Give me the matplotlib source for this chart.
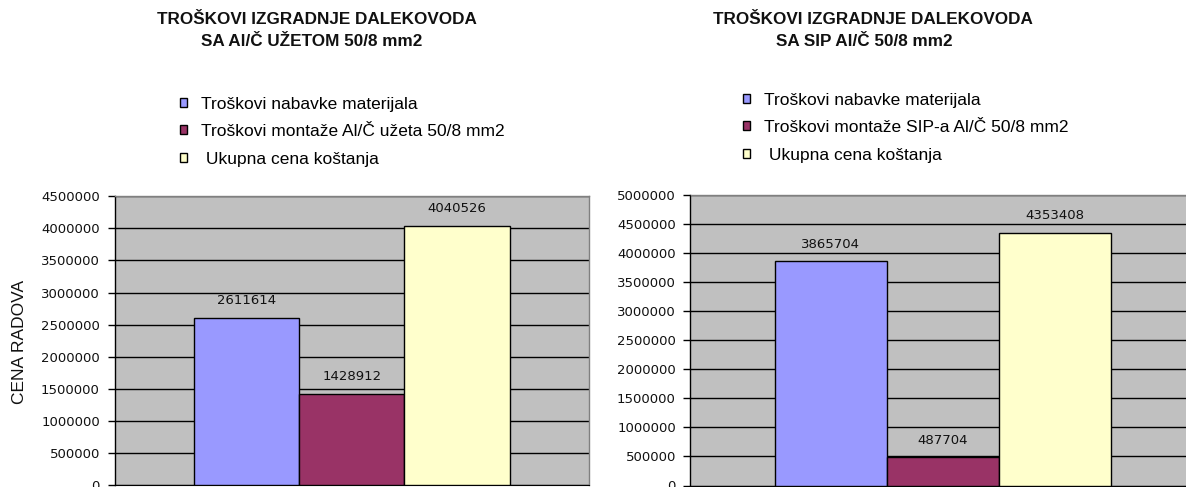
import matplotlib
matplotlib.use("Agg")
import matplotlib.pyplot as plt
from matplotlib.ticker import MultipleLocator, FuncFormatter

# ---------------- data ----------------
title_left = ["TROŠKOVI IZGRADNJE DALEKOVODA", "SA Al/Č UŽETOM 50/8 mm2"]
title_right = ["TROŠKOVI IZGRADNJE DALEKOVODA", "SA SIP Al/Č 50/8 mm2"]
series_left = ["Troškovi nabavke materijala",
               "Troškovi montaže Al/Č užeta 50/8 mm2",
               " Ukupna cena koštanja"]
series_right = ["Troškovi nabavke materijala",
                "Troškovi montaže SIP-a Al/Č 50/8 mm2",
                " Ukupna cena koštanja"]
values_left = [2611614, 1428912, 4040526]
values_right = [3865704, 487704, 4353408]
ylim_left = 4500000
ylim_right = 5000000
ytick_step = 500000
ylabel_left = "CENA RADOVA"

colors = ["#9999FF", "#993366", "#FFFFCC"]
W, H = 1186, 487

fig = plt.figure(figsize=(W / 100, H / 100), dpi=100)
fig.patch.set_facecolor("white")

TXT = "Liberation Sans"
NUM = "DejaVu Sans"


def px_axes(l, r, t, b):
    return fig.add_axes([l / W, (H - b) / H, (r - l) / W, (b - t) / H])


def draw(ax, values, labels, ymax):
    ax.set_facecolor("#C0C0C0")
    ax.set_axisbelow(True)
    xs = [-1, 0, 1]
    bars = []
    for x, v, c, lab in zip(xs, values, colors, labels):
        b = ax.bar(x, v, width=1.0, color=c, edgecolor="black",
                   linewidth=1.0, label=lab, zorder=3)
        bars.append(b[0])
        ax.annotate(f"{v}", xy=(x, v), xytext=(0, 13.5),
                    textcoords="offset pixels", ha="center", va="baseline",
                    fontsize=9.5, family=NUM, color="#111111")
    ax.set_xlim(-2.25, 2.25)
    ax.set_ylim(0, ymax)
    ax.yaxis.set_major_locator(MultipleLocator(ytick_step))
    ax.yaxis.set_major_formatter(FuncFormatter(lambda v, p: f"{int(round(v))}"))
    ax.grid(axis="y", color="black", linewidth=1.0)
    ax.set_xticks([])
    ax.tick_params(axis="y", direction="out", length=5, width=1,
                   color="black", pad=5.5, labelsize=9.5)
    for t in ax.get_yticklabels():
        t.set_family(NUM)
        t.set_color("#111111")
    ax.spines["left"].set_color("black")
    ax.spines["left"].set_linewidth(1.0)
    ax.spines["bottom"].set_color("black")
    for s in ("top", "right"):
        ax.spines[s].set_color("#808080")
        ax.spines[s].set_linewidth(1.0)
    return bars


axL = px_axes(114.5, 589, 196.2, 485.4)
barsL = draw(axL, values_left, series_left, ylim_left)
axR = px_axes(690.5, 1195, 195.3, 485.5)
barsR = draw(axR, values_right, series_right, ylim_right)

axL.set_ylabel(ylabel_left, family=TXT, fontsize=12.5, va="center", color="#111111")
axL.yaxis.set_label_coords((19 - 114.5) / 474.5, (485.4 - 341.5) / 289.2)

# titles
for (x1, x2), lines in (((316.5, 312), title_left), ((873, 864.5), title_right)):
    fig.text(x1 / W, 1 - 20 / H, lines[0], ha="center", va="center",
             family=TXT, weight="bold", fontsize=12.3, color="#111111")
    fig.text(x2 / W, 1 - 41 / H, lines[1], ha="center", va="center",
             family=TXT, weight="bold", fontsize=12.3, color="#111111")

# legends
for bars, labels, (lx, ty) in ((barsL, series_left, (180, 96.5)),
                                (barsR, series_right, (743, 92.5))):
    fig.legend(bars, labels, loc="upper left",
               bbox_to_anchor=(lx / W, 1 - ty / H),
               bbox_transform=fig.transFigure, frameon=False,
               borderpad=0, borderaxespad=0, handlelength=0.42,
               handleheight=0.42, handletextpad=0.8, labelspacing=0.73,
               prop={"family": TXT, "size": 12.5})

fig.savefig("out.png", dpi=100, facecolor="white")
